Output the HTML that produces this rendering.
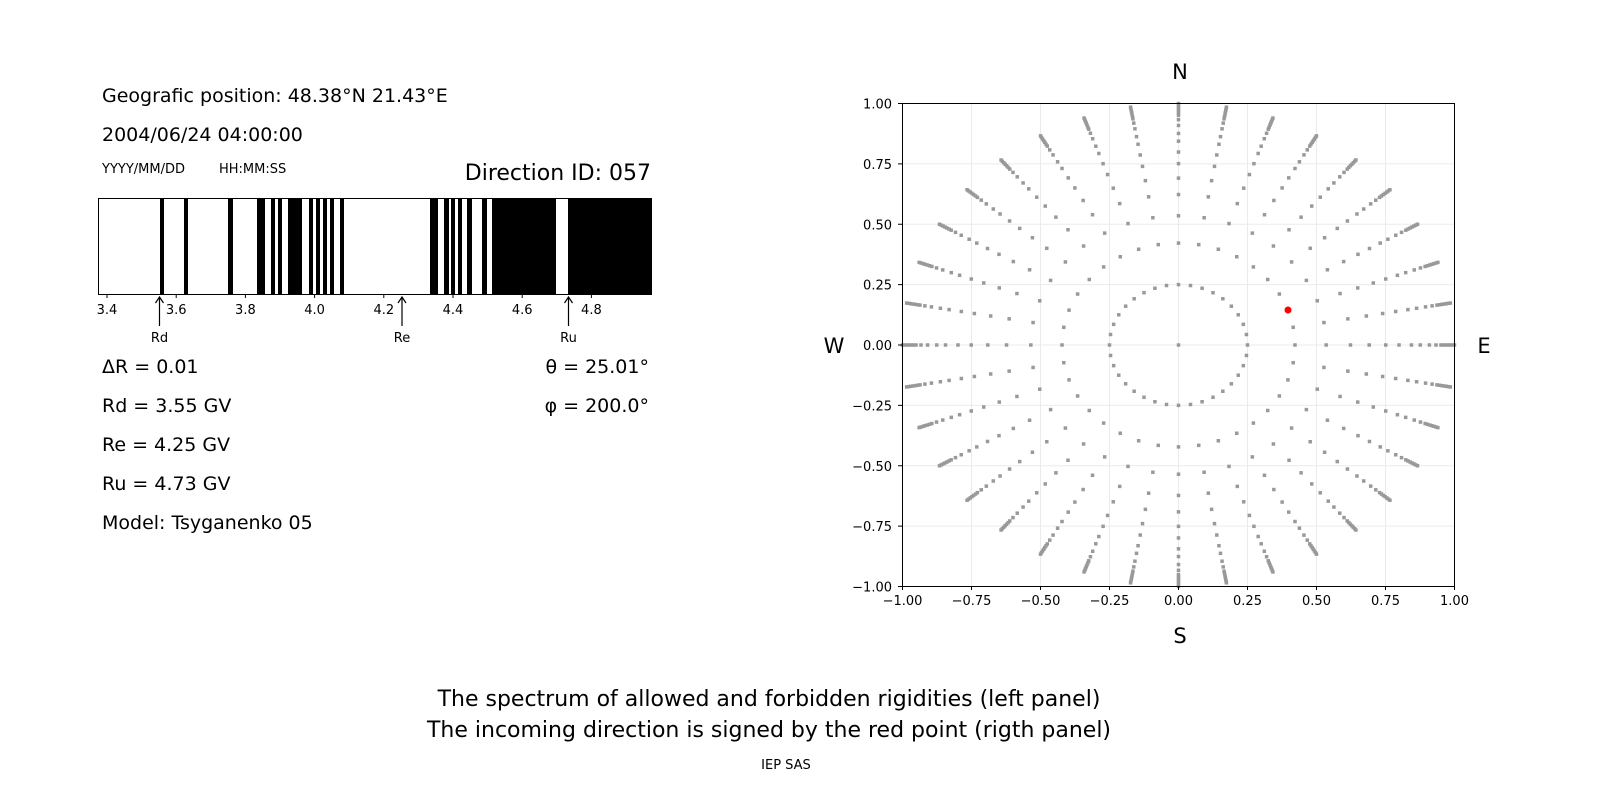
<!DOCTYPE html>
<html><head><meta charset="utf-8"><style>
html,body{margin:0;padding:0;background:#fff;}
svg{display:block;font-family:"DejaVu Sans","Liberation Sans",sans-serif;}
</style></head><body>
<svg id="s" width="1600" height="800" xmlns="http://www.w3.org/2000/svg">
<rect width="1600" height="800" fill="#fff"/>
<g font-size="19" fill="#000">
<text x="102" y="102">Geografic position: 48.38°N 21.43°E</text>
<text x="102" y="141">2004/06/24 04:00:00</text>
<text x="102" y="173" font-size="13">YYYY/MM/DD</text>
<text x="219" y="173" font-size="13">HH:MM:SS</text>
<text x="651" y="180" font-size="22" text-anchor="end">Direction ID: 057</text>
<text x="102" y="373">ΔR = 0.01</text>
<text x="102" y="412">Rd = 3.55 GV</text>
<text x="102" y="451">Re = 4.25 GV</text>
<text x="102" y="490">Ru = 4.73 GV</text>
<text x="102" y="529">Model: Tsyganenko 05</text>
<text x="649" y="373" text-anchor="end">θ = 25.01°</text>
<text x="649" y="412" text-anchor="end">φ = 200.0°</text>
</g>
<g id="bars" fill="#000"></g>
<rect x="98.5" y="198.5" width="553" height="96" fill="none" stroke="#000" stroke-width="1"/>
<g id="bt" font-size="13" text-anchor="middle"></g>
<g stroke="#000" stroke-width="1.2" fill="none">
<path d="M159.5 326V298M155.5 303L159.5 297L163.5 303"/>
<path d="M402 326V298M398 303L402 297L406 303"/>
<path d="M568.5 326V298M564.5 303L568.5 297L572.5 303"/>
</g>
<g font-size="13" text-anchor="middle">
<text x="159.5" y="342">Rd</text><text x="402" y="342">Re</text><text x="568.5" y="342">Ru</text>
</g>
<g id="grid" stroke="#ebebeb" stroke-width="1"></g>
<g id="dots" fill="#999"></g>
<circle cx="1288" cy="310" r="3.5" fill="#f00"/>
<rect x="902.5" y="103.5" width="552" height="483" fill="none" stroke="#000" stroke-width="1"/>
<g id="pt" font-size="13"></g>
<g font-size="21" text-anchor="middle">
<text x="1180" y="79">N</text><text x="1180" y="643">S</text>
<text x="834" y="353">W</text><text x="1484" y="353">E</text>
</g>
<g font-size="22" text-anchor="middle">
<text x="769" y="706">The spectrum of allowed and forbidden rigidities (left panel)</text>
<text x="769" y="737">The incoming direction is signed by the red point (rigth panel)</text>
<text x="786" y="769" font-size="13">IEP SAS</text>
</g>
</svg>
<script>
var NS="http://www.w3.org/2000/svg";
function el(p,t,a,txt){var e=document.createElementNS(NS,t);for(var k in a)e.setAttribute(k,a[k]);if(txt!=null)e.textContent=txt;document.getElementById(p).appendChild(e);}
var bars=[[160,164],[184,188],[228,233],[257,265],[271,275],[278,282],[288,302],[309,313],[316,320],[323,327],[330,334],[340,344],[430,438],[444,449],[451,455],[458,462],[467,472],[482,487],[492,556],[568,651]];
bars.forEach(function(b){el("bars","rect",{x:b[0],y:198,width:b[1]-b[0],height:96});});
for(var i=0;i<8;i++){var v=3.4+0.2*i,x=107+346*(v-3.4);el("bt","line",{x1:x,x2:x,y1:294,y2:298,stroke:"#000"});el("bt","text",{x:x,y:314},v.toFixed(1));}
var cx=1178.5,cy=345,sx=276,sy=241.5;
for(var i=0;i<9;i++){var v=-1+0.25*i;var x=cx+v*sx,y=cy-v*sy;
el("grid","line",{x1:x,x2:x,y1:103,y2:586});el("grid","line",{x1:902,x2:1454,y1:y,y2:y});
el("pt","line",{x1:x,x2:x,y1:586,y2:590,stroke:"#000"});el("pt","text",{x:x,y:605,"text-anchor":"middle"},v.toFixed(2).replace("-","−"));
el("pt","line",{x1:898,x2:902,y1:y,y2:y,stroke:"#000"});el("pt","text",{x:892,y:y+5,"text-anchor":"end"},v.toFixed(2).replace("-","−"));}
var rs=[1.0,0.993,0.985,0.977,0.969,0.960,0.951,0.933,0.909,0.876,0.844,0.799,0.751,0.691,0.623,0.535,0.422,0.25];
el("dots","rect",{x:cx-1.75,y:cy-1.75,width:3.5,height:3.5});
for(var a=0;a<36;a++){var t=a*Math.PI/18;rs.forEach(function(r){el("dots","rect",{x:cx+r*Math.cos(t)*sx-1.75,y:cy-r*Math.sin(t)*sy-1.75,width:3.5,height:3.5});});}
</script>
</body></html>
